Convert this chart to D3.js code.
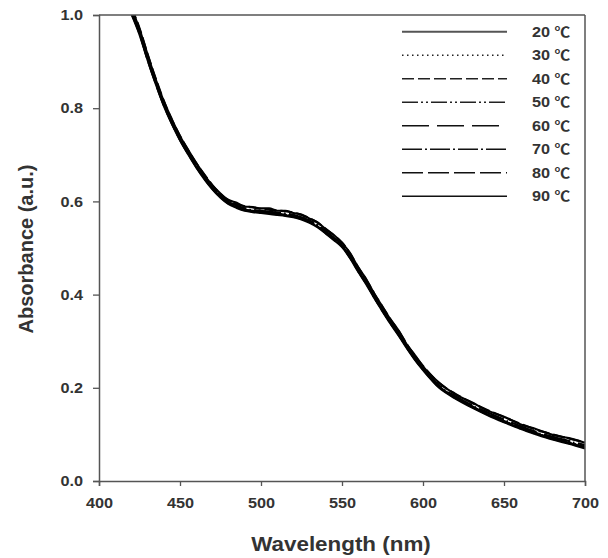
<!DOCTYPE html>
<html>
<head>
<meta charset="utf-8">
<script src="https://cdn.jsdelivr.net/npm/d3@7"></script>
<style>
  body { margin: 0; background: #fff; }
  text { font-family: "Liberation Sans", Arial, "DejaVu Sans", sans-serif; font-weight: bold; fill: #333; }
  .unit { font-family: "Noto Sans CJK SC", "DejaVu Sans", sans-serif; }
</style>
</head>
<body>
<svg id="chart" width="608" height="558"></svg>
<script>
// Absorption spectra recorded at eight temperatures
const wavelengths = [420,425,430,435,440,445,450,455,460,465,470,475,480,485,490,495,500,505,510,515,520,525,530,535,540,545,550,555,560,565,570,575,580,585,590,595,600,610,620,630,640,650,660,670,680,690,700];

const temperatures = ["20", "30", "40", "50", "60", "70", "80", "90"];
const unitLabel = "℃";

const abs20 = [1.014,0.970,0.915,0.862,0.815,0.776,0.740,0.711,0.683,0.657,0.634,0.617,0.603,0.597,0.589,0.588,0.585,0.585,0.580,0.580,0.575,0.572,0.563,0.555,0.540,0.528,0.511,0.489,0.458,0.433,0.401,0.374,0.346,0.323,0.293,0.270,0.246,0.211,0.186,0.169,0.151,0.138,0.122,0.111,0.099,0.092,0.082];
const abs30 = [1.010,0.967,0.910,0.858,0.811,0.771,0.737,0.706,0.679,0.653,0.631,0.613,0.598,0.590,0.585,0.581,0.580,0.578,0.576,0.574,0.571,0.566,0.559,0.549,0.536,0.522,0.507,0.483,0.454,0.427,0.397,0.369,0.342,0.317,0.289,0.264,0.242,0.204,0.181,0.162,0.146,0.131,0.117,0.104,0.094,0.085,0.076];
const abs40 = [1.016,0.972,0.916,0.864,0.816,0.775,0.741,0.710,0.682,0.658,0.635,0.616,0.602,0.594,0.590,0.587,0.584,0.582,0.580,0.579,0.576,0.571,0.564,0.554,0.541,0.527,0.512,0.488,0.459,0.432,0.402,0.374,0.347,0.322,0.294,0.269,0.247,0.210,0.187,0.168,0.152,0.137,0.123,0.110,0.100,0.091,0.083];
const abs50 = [1.008,0.964,0.908,0.857,0.809,0.770,0.735,0.705,0.677,0.652,0.629,0.611,0.595,0.589,0.581,0.580,0.576,0.576,0.572,0.572,0.567,0.564,0.555,0.547,0.532,0.520,0.503,0.481,0.450,0.425,0.393,0.367,0.338,0.315,0.286,0.263,0.239,0.203,0.178,0.161,0.142,0.129,0.113,0.103,0.090,0.083,0.072];
const abs60 = [1.011,0.966,0.911,0.859,0.810,0.772,0.737,0.707,0.679,0.654,0.631,0.613,0.599,0.591,0.585,0.582,0.580,0.578,0.576,0.574,0.571,0.566,0.559,0.549,0.536,0.522,0.507,0.483,0.454,0.427,0.397,0.369,0.342,0.317,0.290,0.265,0.243,0.205,0.182,0.163,0.147,0.132,0.118,0.105,0.095,0.086,0.077];
const abs70 = [1.006,0.962,0.906,0.855,0.808,0.768,0.733,0.703,0.676,0.650,0.628,0.610,0.596,0.588,0.582,0.579,0.577,0.575,0.573,0.571,0.568,0.563,0.556,0.546,0.533,0.519,0.504,0.480,0.451,0.424,0.394,0.366,0.339,0.314,0.287,0.262,0.240,0.202,0.179,0.160,0.143,0.128,0.114,0.102,0.091,0.082,0.072];
const abs80 = [1.004,0.960,0.904,0.853,0.806,0.767,0.732,0.702,0.674,0.649,0.627,0.609,0.597,0.587,0.583,0.578,0.578,0.574,0.574,0.570,0.569,0.562,0.557,0.545,0.534,0.518,0.505,0.479,0.452,0.423,0.395,0.365,0.340,0.313,0.288,0.261,0.241,0.201,0.180,0.159,0.144,0.127,0.115,0.101,0.092,0.081,0.073];
const abs90 = [1.002,0.958,0.903,0.852,0.805,0.766,0.731,0.701,0.673,0.648,0.626,0.608,0.594,0.586,0.580,0.577,0.575,0.573,0.571,0.569,0.566,0.561,0.554,0.544,0.531,0.517,0.502,0.478,0.449,0.422,0.392,0.364,0.337,0.312,0.285,0.260,0.238,0.200,0.177,0.158,0.141,0.126,0.112,0.100,0.089,0.080,0.070];

const xTicks = [400, 450, 500, 550, 600, 650, 700];
const yTicks = [0.0, 0.2, 0.4, 0.6, 0.8, 1.0];

const seriesValues = [abs20, abs30, abs40, abs50, abs60, abs70, abs80, abs90];

// line styles, one per temperature
const dashStyles = [null, "1.5,3.5", "12,4", "16,3,2,3,2,3", "27,8", "20,3,2,3", "21,5", null];
const strokeColors = ["#555", "#222", "#222", "#222", "#111", "#111", "#111", "#111"];

const svg = d3.select("#chart");
const margin = { left: 99, right: 23, top: 15, bottom: 77 };
const W = 608, H = 558;
const sx = 1.12; // horizontal widening of the text

const x = d3.scaleLinear().domain([400, 700]).range([margin.left, W - margin.right]);
const y = d3.scaleLinear().domain([0, 1]).range([H - margin.bottom, margin.top]);

svg.append("defs").append("clipPath").attr("id", "plotClip")
  .append("rect")
  .attr("x", x(400)).attr("y", y(1))
  .attr("width", x(700) - x(400)).attr("height", y(0) - y(1));

// spectra
const line = d3.line()
  .x((d, i) => x(wavelengths[i]))
  .y(d => y(d))
  .curve(d3.curveMonotoneX);

const curves = svg.append("g").attr("clip-path", "url(#plotClip)");
seriesValues.forEach((vals, k) => {
  curves.append("path")
    .datum(vals)
    .attr("d", line)
    .attr("fill", "none")
    .attr("stroke", "#000")
    .attr("stroke-width", 2.1)
    .attr("stroke-dasharray", dashStyles[k]);
});

// frame (top and right)
const axisColor = "#555";
svg.append("line").attr("x1", x(400)).attr("x2", x(700)).attr("y1", y(1)).attr("y2", y(1))
  .attr("stroke", axisColor).attr("stroke-width", 1.5);
svg.append("line").attr("x1", x(700)).attr("x2", x(700)).attr("y1", y(1)).attr("y2", y(0))
  .attr("stroke", axisColor).attr("stroke-width", 1.5);

// axes
const xAxis = svg.append("g")
  .attr("transform", `translate(0,${y(0)})`)
  .call(d3.axisBottom(x).tickValues(xTicks).tickFormat(d3.format("d")).tickSize(5).tickPadding(12));
const yAxis = svg.append("g")
  .attr("transform", `translate(${x(400)},0)`)
  .call(d3.axisLeft(y).tickValues(yTicks).tickFormat(d3.format(".1f")).tickSize(6).tickPadding(10));

[xAxis, yAxis].forEach(g => {
  g.select(".domain").attr("stroke", axisColor).attr("stroke-width", 1.5);
  g.selectAll(".tick line").attr("stroke", axisColor).attr("stroke-width", 1.3);
  g.selectAll(".tick text").attr("font-size", 14.5).attr("font-family", null).attr("fill", "#333");
});
xAxis.selectAll(".tick text").attr("transform", `scale(${sx},1)`);
yAxis.selectAll(".tick text").attr("x", -16 / sx).attr("transform", `scale(${sx},1)`);

// axis titles
svg.append("text")
  .attr("transform", `translate(${(x(400) + x(700)) / 2 - 1},551) scale(${sx},1)`)
  .attr("text-anchor", "middle")
  .attr("font-size", 20)
  .text("Wavelength (nm)");
svg.append("text")
  .attr("transform", "translate(26,249) rotate(-90)")
  .attr("text-anchor", "middle")
  .attr("dy", "0.36em")
  .attr("font-size", 20)
  .text("Absorbance (a.u.)");

// legend
const legend = svg.append("g");
temperatures.forEach((t, k) => {
  const ly = 31.7 + k * 23.5;
  legend.append("line")
    .attr("x1", 402).attr("x2", 507).attr("y1", ly).attr("y2", ly)
    .attr("stroke", strokeColors[k])
    .attr("stroke-width", k === 0 ? 2 : 1.6)
    .attr("stroke-dasharray", dashStyles[k]);
  const label = legend.append("text")
    .attr("transform", `translate(532,${ly}) scale(${sx},1)`)
    .attr("dy", "0.36em")
    .attr("font-size", 14.5);
  label.append("tspan").text(t + " ");
  label.append("tspan").attr("class", "unit").attr("font-size", 14).text(unitLabel);
});
</script>
</body>
</html>
